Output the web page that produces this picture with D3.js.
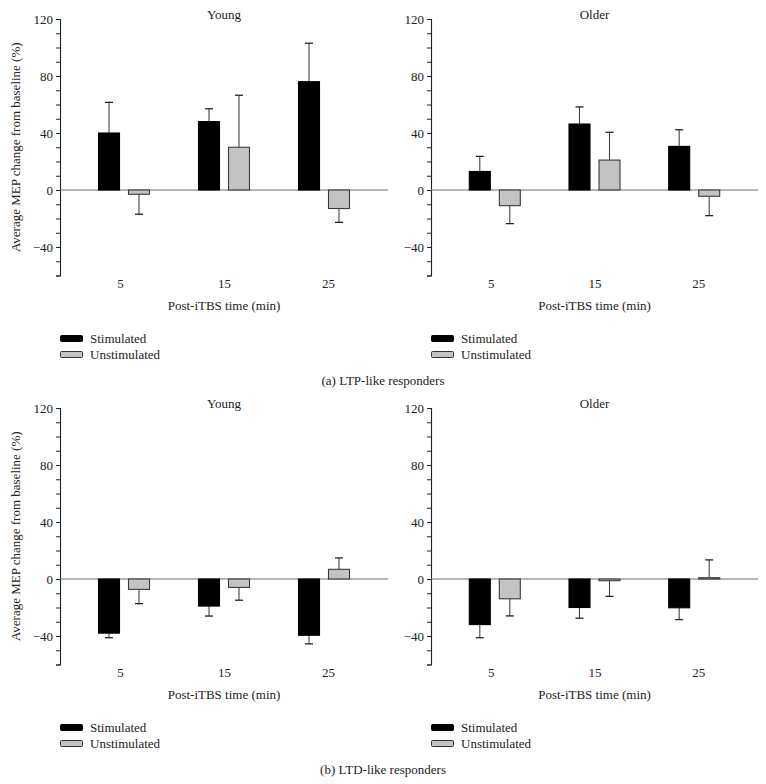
<!DOCTYPE html>
<html>
<head>
<meta charset="utf-8">
<script src="https://cdn.jsdelivr.net/npm/d3@7"></script>
<style>
  html, body { margin: 0; padding: 0; background: #fff; }
  svg { display: block; }
  svg text { font-family: "Liberation Serif", "DejaVu Serif", serif; fill: #222; font-size: 13px; }
</style>
</head>
<body>
<svg id="chart" width="766" height="784"></svg>
<script>
// ---------- data ----------
const times = ["5", "15", "25"];
const series = ["Stimulated", "Unstimulated"];
const yTicks = [-60, -50, -40, -30, -20, -10, 0, 10, 20, 30, 40, 50, 60, 70, 80, 90, 100, 110, 120];
const yLabelled = [120, 80, 40, 0, -40];

// (a) LTP-like responders
const ltpYoungStim = [40, 48, 76];
const ltpYoungStimErr = [21.5, 9, 27];
const ltpYoungUnstim = [-3, 30, -13];
const ltpYoungUnstimErr = [14, 36.5, 9.7];
const ltpOlderStim = [13, 46.3, 30.6];
const ltpOlderStimErr = [10.6, 12, 11.7];
const ltpOlderUnstim = [-11, 21, -4.4];
const ltpOlderUnstimErr = [12.6, 19.5, 13.6];

// (b) LTD-like responders
const ltdYoungStim = [-38, -19, -39.5];
const ltdYoungStimErr = [3.2, 7, 6];
const ltdYoungUnstim = [-7.3, -5.9, 6.8];
const ltdYoungUnstimErr = [10, 9, 8];
const ltdOlderStim = [-32, -20, -20.2];
const ltdOlderStimErr = [9.2, 7.5, 8.3];
const ltdOlderUnstim = [-13.9, -1.2, 0.9];
const ltdOlderUnstimErr = [12, 11, 12.5];

const colors = { "Stimulated": "#000000", "Unstimulated": "#c3c3c3" };
const FONT = "'Liberation Serif', 'DejaVu Serif', serif";

const svg = d3.select("#chart");

function panel(opts) {
  const { x0, x1, yTop, yBottom, title, stim, stimErr, unstim, unstimErr, showYLabel } = opts;
  const g = svg.append("g");

  const y = d3.scaleLinear().domain([-60, 120]).range([yBottom, yTop]);
  const xBars = d3.scalePoint().domain(times).range([x0, x1]).padding(0.64);
  const xLabels = d3.scalePoint().domain(times).range([x0, x1]).padding(0.577);
  const xSub = d3.scaleBand().domain(series).range([-25.5, 25.5]).paddingInner(0.3);

  const data = [];
  times.forEach((t, i) => {
    data.push({ t, s: "Stimulated", v: stim[i], e: stimErr[i] });
    data.push({ t, s: "Unstimulated", v: unstim[i], e: unstimErr[i] });
  });

  // y axis
  const yAxis = d3.axisLeft(y).tickValues(yTicks).tickSize(4)
    .tickFormat(d => yLabelled.includes(d) ? d3.format("")(d) : "");
  const ya = g.append("g").attr("transform", `translate(${x0},0)`).call(yAxis)
    .attr("font-family", null).attr("font-size", null);
  ya.select(".domain").attr("stroke", "#222").attr("stroke-width", 1.1);
  ya.selectAll(".tick line").attr("stroke", "#222");
  ya.selectAll(".tick text").attr("x", -7)
    .style("font-family", FONT).style("font-size", "13px").attr("fill", "#222");

  // zero line
  g.append("line").attr("x1", x0).attr("x2", x1)
    .attr("y1", y(0)).attr("y2", y(0)).attr("stroke", "#6f6f6f").attr("stroke-width", 1.1);

  // error bars
  const cxOf = d => xBars(d.t) + xSub(d.s) + xSub.bandwidth() / 2;
  const endOf = d => y(d.v >= 0 ? d.v + d.e : d.v - d.e);
  const eb = g.selectAll(".err").data(data).enter().append("g");
  eb.append("line")
    .attr("x1", cxOf).attr("x2", cxOf)
    .attr("y1", d => y(d.v)).attr("y2", endOf)
    .attr("stroke", "#444").attr("stroke-width", 1.1);
  eb.append("line")
    .attr("x1", d => cxOf(d) - 4).attr("x2", d => cxOf(d) + 4)
    .attr("y1", endOf).attr("y2", endOf)
    .attr("stroke", "#222").attr("stroke-width", 1.3);

  // bars
  g.selectAll(".bar").data(data).enter().append("rect")
    .attr("x", d => xBars(d.t) + xSub(d.s))
    .attr("width", xSub.bandwidth())
    .attr("y", d => Math.min(y(d.v), y(0)))
    .attr("height", d => Math.abs(y(d.v) - y(0)))
    .attr("fill", d => colors[d.s])
    .attr("stroke", d => d.s === "Stimulated" ? "#000" : "#3a3a3a")
    .attr("stroke-width", 1.1);

  // x labels
  const xAxis = d3.axisBottom(xLabels).tickSize(0).tickPadding(0);
  const xa = g.append("g").attr("transform", `translate(0,${yBottom + 3})`).call(xAxis)
    .attr("font-family", null).attr("font-size", null);
  xa.select(".domain").remove();
  xa.selectAll(".tick text").style("font-family", FONT).style("font-size", "13px").attr("fill", "#222");

  const cx = (x0 + x1) / 2;
  g.append("text").attr("x", cx).attr("y", yBottom + 34).attr("text-anchor", "middle")
    .text("Post-iTBS time (min)");

  g.append("text").attr("x", cx).attr("y", yTop - 0.5).attr("text-anchor", "middle")
    .text(title);

  if (showYLabel) {
    g.append("text")
      .attr("transform", `translate(20,${(yTop + yBottom) / 2}) rotate(-90)`)
      .attr("text-anchor", "middle")
      .text("Average MEP change from baseline (%)");
  }

  // legend
  const lg = g.append("g").attr("transform", `translate(${x0},${yBottom + 63})`);
  series.forEach((s, i) => {
    lg.append("rect").attr("x", 0.5).attr("y", i * 16 - 3).attr("width", 22).attr("height", 6)
      .attr("rx", 1).attr("fill", colors[s]).attr("stroke", s === "Stimulated" ? "#000" : "#333")
      .attr("stroke-width", 1);
    lg.append("text").attr("x", 30).attr("y", i * 16 + 4.5).text(s);
  });
}

// (a)
panel({ x0: 60, x1: 388, yTop: 19, yBottom: 275.5, title: "Young",
  stim: ltpYoungStim, stimErr: ltpYoungStimErr, unstim: ltpYoungUnstim, unstimErr: ltpYoungUnstimErr, showYLabel: true });
panel({ x0: 431, x1: 758, yTop: 19, yBottom: 275.5, title: "Older",
  stim: ltpOlderStim, stimErr: ltpOlderStimErr, unstim: ltpOlderUnstim, unstimErr: ltpOlderUnstimErr, showYLabel: false });
// (b)
panel({ x0: 60, x1: 388, yTop: 408, yBottom: 664.5, title: "Young",
  stim: ltdYoungStim, stimErr: ltdYoungStimErr, unstim: ltdYoungUnstim, unstimErr: ltdYoungUnstimErr, showYLabel: true });
panel({ x0: 431, x1: 758, yTop: 408, yBottom: 664.5, title: "Older",
  stim: ltdOlderStim, stimErr: ltdOlderStimErr, unstim: ltdOlderUnstim, unstimErr: ltdOlderUnstimErr, showYLabel: false });

svg.append("text").attr("x", 383).attr("y", 385).attr("text-anchor", "middle")
  .text("(a)  LTP-like responders");
svg.append("text").attr("x", 383).attr("y", 774).attr("text-anchor", "middle")
  .text("(b)  LTD-like responders");
</script>
</body>
</html>
